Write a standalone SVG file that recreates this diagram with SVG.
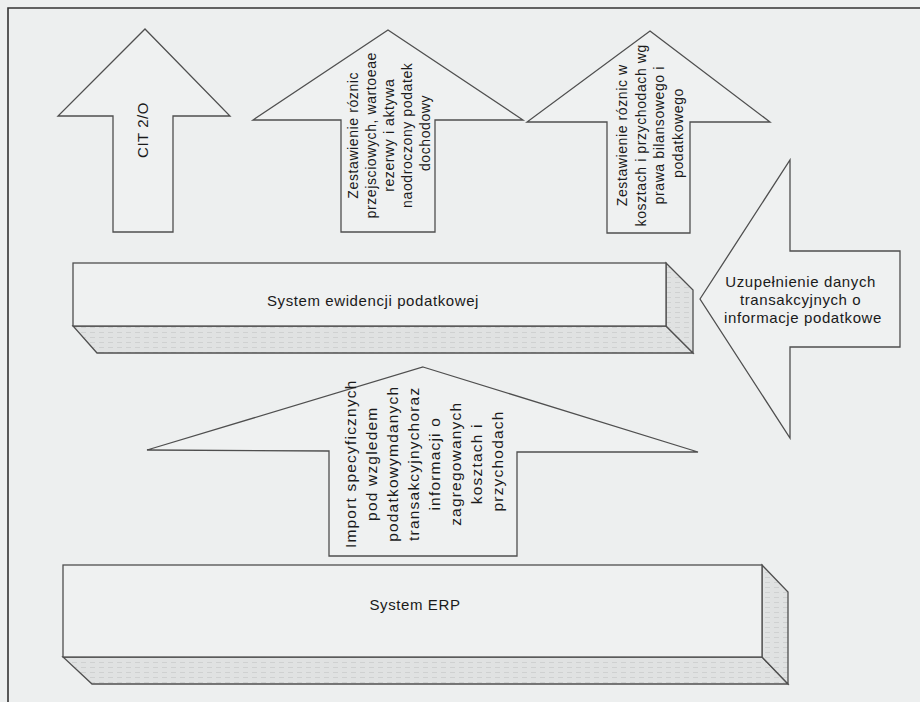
<svg xmlns="http://www.w3.org/2000/svg" width="920" height="702" viewBox="0 0 920 702">
<defs>
<style>
.shape{fill:#eff1f1;stroke:#4f4f4f;stroke-width:1.3;stroke-linejoin:miter}
.face{stroke:#4f4f4f;stroke-width:1.3}
.t{font-family:"Liberation Sans",Arial,sans-serif;fill:#1a1a1a;text-anchor:middle}
.h{font-size:15px;letter-spacing:0.6px}
.v{font-size:14px;letter-spacing:0.6px}
.vb{font-size:15.5px;letter-spacing:1.2px}
.frame{stroke:#333;stroke-width:1.6;fill:none}
</style>
<pattern id="hatch" width="9" height="5" patternUnits="userSpaceOnUse">
<rect width="9" height="5" fill="#e0e2e2"/>
<path d="M0,2.5 L5,2.5" stroke="#cfd1d1" stroke-width="1"/>
</pattern>
</defs>
<rect width="920" height="702" fill="#edefef"/>
<path class="frame" d="M8,702 L8,8 L920,8"/>

<g id="connectors">
<g id="arrow-cit">
<path class="shape" d="M145,29 L230,116 L173,116 L173,232 L113,232 L113,116 L58,116 Z"/>
<text class="t" style="font-size:15px;letter-spacing:0.5px" transform="translate(143,130) rotate(-90)" x="0" y="5">CIT 2/O</text>
</g>
<g id="arrow-roznice-przejsciowe">
<path class="shape" d="M388,30 L523,120 L435,120 L435,232 L341,232 L341,120 L253,120 Z"/>
<text class="t v" transform="translate(389,133) rotate(-90)">
<tspan x="0" y="-31">Zestawienie róznic</tspan>
<tspan x="0" y="-13">przejsciowych, wartoeae</tspan>
<tspan x="0" y="5">rezerwy i aktywa</tspan>
<tspan x="0" y="23">naodroczony podatek</tspan>
<tspan x="0" y="41">dochodowy</tspan>
</text>
</g>
<g id="arrow-roznice-prawa">
<path class="shape" d="M650,31 L770,122 L690,122 L690,233 L607,233 L607,122 L527,122 Z"/>
<text class="t v" transform="translate(650,133) rotate(-90)">
<tspan x="0" y="-22.75">Zestawienie róznic w</tspan>
<tspan x="0" y="-4.25">kosztach i przychodach wg</tspan>
<tspan x="0" y="14.25">prawa bilansowego i</tspan>
<tspan x="0" y="32.75">podatkowego</tspan>
</text>
</g>
<g id="arrow-uzupelnienie">
<path class="shape" d="M700,299 L790,160 L790,251 L900,251 L900,347 L790,347 L790,438 Z"/>
<text class="t h">
<tspan x="803" y="287">Uzupełnienie danych</tspan>
<tspan x="803" y="305">transakcyjnych o</tspan>
<tspan x="803" y="323">informacje podatkowe</tspan>
</text>
</g>
<g id="arrow-import">
<path class="shape" d="M423,367 L698,452 L517,452 L517,556 L329,556 L329,451 L147,450 Z"/>
<text class="t vb" transform="translate(423.5,461) rotate(-90)">
<tspan x="0" y="-68">Import specyficznych</tspan>
<tspan x="0" y="-47">pod wzgledem</tspan>
<tspan x="0" y="-26">podatkowymdanych</tspan>
<tspan x="0" y="-5">transakcyjnychoraz</tspan>
<tspan x="0" y="16">informacji o</tspan>
<tspan x="0" y="37">zagregowanych</tspan>
<tspan x="0" y="58">kosztach i</tspan>
<tspan x="0" y="79">przychodach</tspan>
</text>
</g>
</g>

<g id="system-ewidencji">
<path class="face" fill="url(#hatch)" d="M73,326 L666,326 L693,353 L97,353 Z"/>
<path class="face" fill="url(#hatch)" d="M666,263 L693,290 L693,353 L666,326 Z"/>
<rect class="shape" x="73" y="263" width="593" height="63"/>
<text class="t h" x="373" y="306">System ewidencji podatkowej</text>
</g>

<g id="system-erp">
<path class="face" fill="url(#hatch)" d="M63,657 L762,657 L788,684 L92,684 Z"/>
<path class="face" fill="url(#hatch)" d="M762,565 L788,592 L788,684 L762,657 Z"/>
<rect class="shape" x="63" y="565" width="699" height="92"/>
<text class="t h" x="415" y="610">System ERP</text>
</g>
</svg>
